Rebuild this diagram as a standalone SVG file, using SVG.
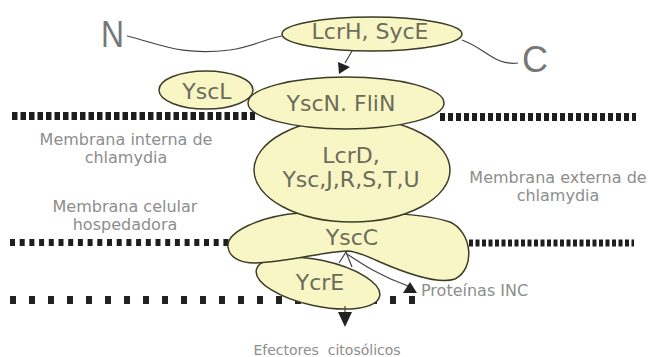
<svg xmlns="http://www.w3.org/2000/svg" width="652" height="357" viewBox="0 0 652 357">
<defs>
<style>
.n{fill:#f8f6c4;stroke:#3c3c28;stroke-width:1.5}
.t{font-family:"DejaVu Sans","Liberation Sans",sans-serif;fill:#6c6c5c;text-anchor:middle}
.lbl{font-size:22px}
.side{font-size:16px;fill:#8d8d8d}
.big{font-family:"Liberation Sans",Arial,sans-serif;font-size:37px;fill:#777}
.ln{fill:none;stroke:#444;stroke-width:1.2}
.d1{stroke:#1e1e1e;stroke-width:8;stroke-dasharray:5.5 3;fill:none}
.d1r{stroke:#1e1e1e;stroke-width:8;stroke-dasharray:5 3;fill:none}
.d2{stroke:#1e1e1e;stroke-width:7;stroke-dasharray:5 4.7;fill:none}
.d2r{stroke:#1e1e1e;stroke-width:7;stroke-dasharray:4 2.5;fill:none}
.d3{stroke:#222;stroke-width:8;stroke-dasharray:6 13;fill:none}
</style>
</defs>
<rect width="652" height="357" fill="#fff"/>
<g id="membranes">
<path class="d1" d="M12,116 H255"/>
<path class="d1r" d="M440,117 H636"/>
<path class="d2" d="M10,242.5 H232"/>
<path class="d2r" d="M469,243 H634"/>
<path class="d3" d="M10,300 H420"/>
</g>
<g id="YcrE">
<ellipse class="n" cx="318" cy="283" rx="63" ry="23" transform="rotate(12 318 283)"/>
<text class="t lbl" x="320" y="290">YcrE</text>
</g>
<g id="YscC">
<path class="n" d="M228,247 C226,232 260,216 300,213 C350,210 420,212 450,222 C472,232 476,268 455,279 C440,284 410,275 380,262 C365,255 355,251 347,251 C320,252 290,262 255,263 C238,263 229,256 228,247 Z"/>
<text class="t lbl" x="352" y="245">YscC</text>
</g>
<g id="LcrD">
<ellipse class="n" cx="352" cy="170" rx="98" ry="52"/>
<text class="t lbl" x="351" y="163">LcrD,</text>
<text class="t lbl" x="351" y="187">Ysc,J,R,S,T,U</text>
</g>
<g id="YscL">
<ellipse class="n" cx="206" cy="90" rx="47" ry="19"/>
<text class="t lbl" x="207" y="99">YscL</text>
</g>
<g id="YscN">
<ellipse class="n" cx="346" cy="103" rx="98" ry="26"/>
<text class="t lbl" x="341" y="111">YscN. FliN</text>
</g>
<g id="LcrH">
<ellipse class="n" cx="372" cy="34" rx="90" ry="17"/>
<text class="t lbl" x="370" y="39">LcrH, SycE</text>
</g>
<g id="connectors">
<path class="ln" d="M127,36 C160,44 180,56 230,50 C255,46 268,38 282,36"/>
<path class="ln" d="M462,40 C485,48 495,66 518,63"/>
<path class="ln" d="M352,51 L345,63"/>
<path d="M338,62 L350,67 L339,74 z" fill="#222"/>
<path class="ln" d="M339,263 L346,252 L352,267"/>
<path class="ln" d="M347,254 C362,264 380,276 408,286"/>
<path d="M410,282 L403,293 L417,293 z" fill="#222"/>
<path class="ln" d="M345,306 V313"/>
<path d="M338,312 L352,312 L345,327 z" fill="#222"/>
</g>
<g id="labels">
<text class="big" x="101" y="47" textLength="23" lengthAdjust="spacingAndGlyphs">N</text>
<text class="big" x="522" y="72" textLength="26" lengthAdjust="spacingAndGlyphs">C</text>
<text class="t side" x="126" y="145">Membrana interna de</text>
<text class="t side" x="126" y="163">chlamydia</text>
<text class="t side" x="125" y="212">Membrana celular</text>
<text class="t side" x="125" y="230">hospedadora</text>
<text class="t side" x="558" y="183">Membrana externa de</text>
<text class="t side" x="558" y="201">chlamydia</text>
<text class="t side" x="421" y="296" style="text-anchor:start">Proteínas INC</text>
<text class="t side" x="327" y="355" style="font-size:14px" xml:space="preserve">Efectores  citosólicos</text>
</g>
</svg>
